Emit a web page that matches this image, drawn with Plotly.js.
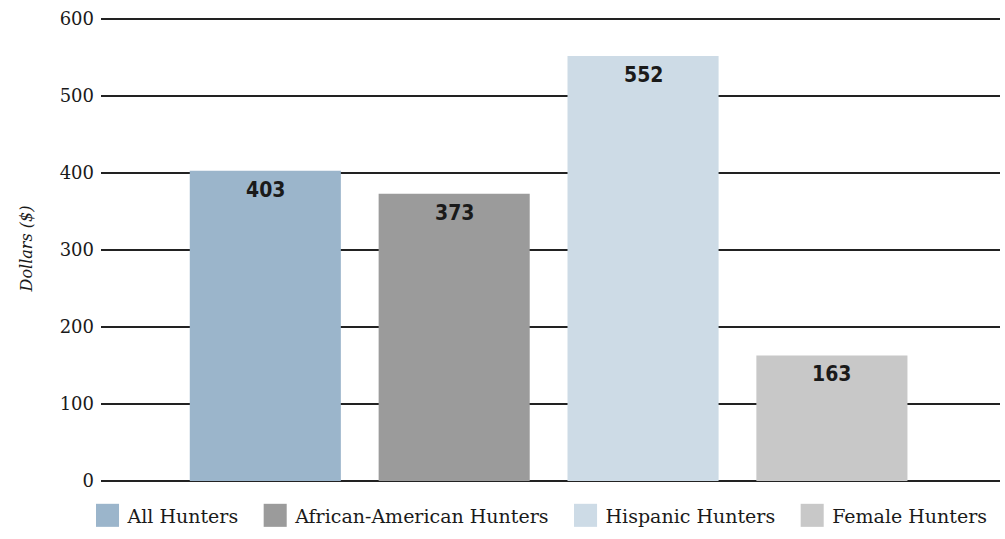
<!DOCTYPE html>
<html>
<head>
<meta charset="utf-8">
<script src="https://cdn.plot.ly/plotly-3.0.1.min.js"></script>
<style>
  html, body { margin: 0; padding: 0; background: #fff; }
  #chart { width: 1005px; height: 539px; }
</style>
</head>
<body>
<div id="chart"></div>
<script>
  // values
  const groups = ["All Hunters", "African-American Hunters", "Hispanic Hunters", "Female Hunters"];
  const dollars = [403, 373, 552, 163];
  const barColors = ["#9bb5cb", "#9b9b9b", "#cddbe6", "#c8c8c8"];
  const yTicks = [0, 100, 200, 300, 400, 500, 600];

  const serif = "DejaVu Serif, serif";
  const narrowBold = "DejaVu Sans Condensed, Liberation Sans Narrow, sans-serif";

  const positions = groups.map((g, i) => i);

  const traces = [
    {
      type: "bar",
      x: positions,
      y: dollars,
      marker: { color: barColors },
      showlegend: false,
      hoverinfo: "skip",
    },
  ];

  // legend-only entries, swatches get enlarged after drawing
  groups.forEach((g, i) => {
    traces.push({
      type: "scatter",
      mode: "markers",
      x: [null],
      y: [null],
      name: g,
      marker: { symbol: "square", size: 16, color: barColors[i] },
    });
  });

  const annotations = dollars.map((v, i) => ({
    x: positions[i],
    y: v,
    xref: "x",
    yref: "y",
    text: String(v),
    showarrow: false,
    yanchor: "top",
    yshift: -5,
    font: { family: narrowBold, size: 21, color: "#1a1a1a", weight: "bold" },
  }));

  const layout = {
    width: 1005,
    height: 539,
    margin: { l: 101, r: 5, t: 16, b: 58 },
    paper_bgcolor: "#fff",
    plot_bgcolor: "#fff",
    bargap: 0.2,
    xaxis: {
      range: [-0.87, 3.89],
      showticklabels: false,
      showgrid: false,
      zeroline: false,
      fixedrange: true,
    },
    yaxis: {
      range: [0, 603.9],
      tickvals: yTicks,
      ticktext: yTicks.map(String),
      showgrid: true,
      gridcolor: "#222",
      gridwidth: 1.5,
      zeroline: true,
      zerolinecolor: "#222",
      zerolinewidth: 1.5,
      ticklabelstandoff: 6,
      tickfont: { family: serif, size: 18, color: "#1a1a1a" },
      title: {
        text: "Dollars ($)",
        font: { family: serif, size: 16, color: "#1a1a1a", style: "italic" },
        standoff: 23,
      },
      fixedrange: true,
    },
    legend: {
      orientation: "h",
      x: -0.015,
      xanchor: "left",
      y: -0.115,
      yanchor: "bottom",
      font: { family: serif, size: 19, color: "#1a1a1a" },
      itemclick: false,
      itemdoubleclick: false,
    },
    annotations: annotations,
  };

  Plotly.newPlot("chart", traces, layout, { displayModeBar: false, staticPlot: true }).then((gd) => {
    // bigger square swatches like the reference
    gd.querySelectorAll(".legend .legendpoints path").forEach((p) => {
      const t = p.getAttribute("transform") || "";
      p.setAttribute("transform", t + " scale(1.44)");
    });
    // wider spacing between legend entries
    const scroll = gd.querySelector(".legend .scrollbox");
    if (scroll) scroll.removeAttribute("clip-path");
    const items = Array.from(gd.querySelectorAll(".legend .traces"));
    let prevX = null, prevLen = 0;
    items.forEach((it) => {
      const m = /translate\(\s*([-\d.]+)[ ,]+([-\d.]+)/.exec(it.getAttribute("transform") || "");
      if (!m) return;
      let x = parseFloat(m[1]);
      const y = parseFloat(m[2]);
      if (prevX !== null) x = prevX + prevLen + 57;
      it.setAttribute("transform", "translate(" + x + "," + y + ")");
      prevX = x;
      const txt = it.querySelector(".legendtext");
      prevLen = txt ? txt.getComputedTextLength() : 0;
    });
  });
</script>
</body>
</html>
